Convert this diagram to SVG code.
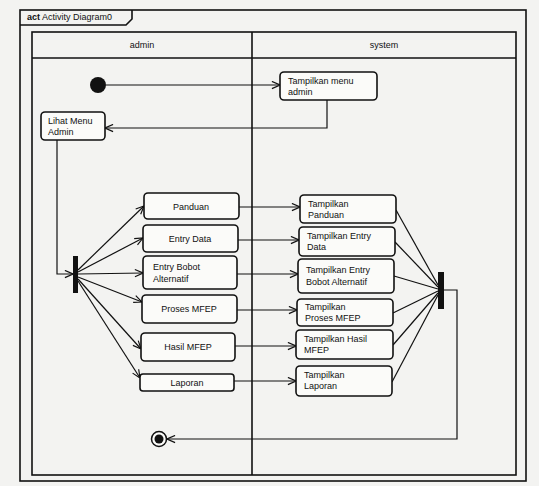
<svg xmlns="http://www.w3.org/2000/svg" width="539" height="486" viewBox="0 0 539 486">
<defs>
<style>
.frame{fill:none;stroke:#111;stroke-width:1.6}
.act{fill:#fbfbf9;stroke:#111;stroke-width:1.6}
.t{font-family:"Liberation Sans",Arial,sans-serif;font-size:9px;fill:#111}
.c{text-anchor:middle}
.ln{fill:none;stroke:#111;stroke-width:1.2}
.bar{fill:#111}
</style>
<marker id="ah" viewBox="0 0 10 10" refX="10" refY="5" markerWidth="9" markerHeight="9" orient="auto" markerUnits="userSpaceOnUse">
<path d="M1,1 L10,5 L1,9" fill="none" stroke="#111" stroke-width="1.3"/>
</marker>
</defs>
<rect x="0" y="0" width="539" height="486" fill="#f3f3f1"/>
<g id="frame">
<rect class="frame" x="20" y="10" width="506" height="471"/>
<path class="frame" d="M20,25 H126 L132,19 V10"/>
<text class="t" x="27" y="20"><tspan font-weight="bold">act</tspan> Activity Diagram0</text>
<rect class="frame" x="32" y="32" width="484" height="443"/>
<line class="frame" x1="32" y1="58" x2="516" y2="58"/>
<line class="frame" x1="252" y1="32" x2="252" y2="475"/>
<text class="t c" x="142" y="48">admin</text>
<text class="t c" x="384" y="48">system</text>
</g>
<g id="connectors">
<line class="ln" x1="106" y1="85" x2="280" y2="85" marker-end="url(#ah)"/>
<polyline class="ln" points="327,100 327,128 105,128" marker-end="url(#ah)"/>
<polyline class="ln" points="57,140 57,274 73,274" marker-end="url(#ah)"/>
<line class="ln" x1="78" y1="270" x2="144" y2="206" marker-end="url(#ah)"/>
<line class="ln" x1="78" y1="272" x2="143" y2="238" marker-end="url(#ah)"/>
<line class="ln" x1="78" y1="274" x2="143" y2="273" marker-end="url(#ah)"/>
<line class="ln" x1="78" y1="277" x2="142" y2="302" marker-end="url(#ah)"/>
<line class="ln" x1="78" y1="279" x2="141" y2="349" marker-end="url(#ah)"/>
<line class="ln" x1="78" y1="281" x2="140" y2="378" marker-end="url(#ah)"/>
<line class="ln" x1="239" y1="207" x2="300" y2="207" marker-end="url(#ah)"/>
<line class="ln" x1="238" y1="240" x2="299" y2="240" marker-end="url(#ah)"/>
<line class="ln" x1="237" y1="274" x2="298" y2="274" marker-end="url(#ah)"/>
<line class="ln" x1="237" y1="310" x2="297" y2="310" marker-end="url(#ah)"/>
<line class="ln" x1="235" y1="346" x2="296" y2="346" marker-end="url(#ah)"/>
<line class="ln" x1="234" y1="381" x2="296" y2="381" marker-end="url(#ah)"/>
<line class="ln" x1="396" y1="210" x2="438" y2="285"/>
<line class="ln" x1="395" y1="242" x2="438" y2="287"/>
<line class="ln" x1="394" y1="276" x2="438" y2="289"/>
<line class="ln" x1="393" y1="313" x2="438" y2="291"/>
<line class="ln" x1="393" y1="345" x2="438" y2="293"/>
<line class="ln" x1="392" y1="382" x2="438" y2="295"/>
<polyline class="ln" points="444,290 457,290 457,439 167,439" marker-end="url(#ah)"/>
</g>
<g id="start"><circle cx="98" cy="85" r="8" fill="#111"/></g>
<g id="tampilkan-menu-admin"><rect class="act" x="280" y="72" width="97" height="28" rx="4"/><text class="t" x="288" y="84">Tampilkan menu</text><text class="t" x="288" y="95">admin</text></g>
<g id="lihat-menu-admin"><rect class="act" x="41" y="112" width="64" height="28" rx="4"/><text class="t" x="48" y="124">Lihat Menu</text><text class="t" x="48" y="135">Admin</text></g>
<g id="fork-left"><rect class="bar" x="73" y="256" width="5" height="37"/></g>
<g id="panduan"><rect class="act" x="144" y="193" width="95" height="26" rx="4"/><text class="t c" x="191" y="210">Panduan</text></g>
<g id="entry-data"><rect class="act" x="143" y="225" width="95" height="27" rx="4"/><text class="t c" x="190" y="242">Entry Data</text></g>
<g id="entry-bobot"><rect class="act" x="143" y="256" width="94" height="33" rx="4"/><text class="t" x="153" y="270">Entry Bobot</text><text class="t" x="153" y="282">Alternatif</text></g>
<g id="proses-mfep"><rect class="act" x="142" y="295" width="95" height="28" rx="4"/><text class="t c" x="189" y="312">Proses MFEP</text></g>
<g id="hasil-mfep"><rect class="act" x="141" y="333" width="94" height="28" rx="4"/><text class="t c" x="188" y="350">Hasil MFEP</text></g>
<g id="laporan"><rect class="act" x="140" y="374" width="94" height="17" rx="3"/><text class="t c" x="187" y="386">Laporan</text></g>
<g id="tampilkan-panduan"><rect class="act" x="300" y="195" width="96" height="28" rx="4"/><text class="t" x="308" y="207">Tampilkan</text><text class="t" x="308" y="218">Panduan</text></g>
<g id="tampilkan-entry-data"><rect class="act" x="299" y="227" width="96" height="29" rx="4"/><text class="t" x="307" y="239">Tampilkan Entry</text><text class="t" x="307" y="250">Data</text></g>
<g id="tampilkan-entry-bobot"><rect class="act" x="298" y="259" width="96" height="34" rx="4"/><text class="t" x="306" y="273">Tampilkan Entry</text><text class="t" x="306" y="285">Bobot Alternatif</text></g>
<g id="tampilkan-proses-mfep"><rect class="act" x="297" y="299" width="96" height="27" rx="4"/><text class="t" x="305" y="310">Tampilkan</text><text class="t" x="305" y="321">Proses MFEP</text></g>
<g id="tampilkan-hasil-mfep"><rect class="act" x="296" y="330" width="97" height="29" rx="4"/><text class="t" x="304" y="342">Tampilkan Hasil</text><text class="t" x="304" y="353">MFEP</text></g>
<g id="tampilkan-laporan"><rect class="act" x="296" y="366" width="96" height="30" rx="4"/><text class="t" x="304" y="378">Tampilkan</text><text class="t" x="304" y="389">Laporan</text></g>
<g id="join-right"><rect class="bar" x="438" y="272" width="6" height="37"/></g>
<g id="end"><circle cx="159" cy="439" r="7.5" fill="#fbfbf9" stroke="#111" stroke-width="1.5"/><circle cx="159" cy="439" r="4.5" fill="#111"/></g>
</svg>
